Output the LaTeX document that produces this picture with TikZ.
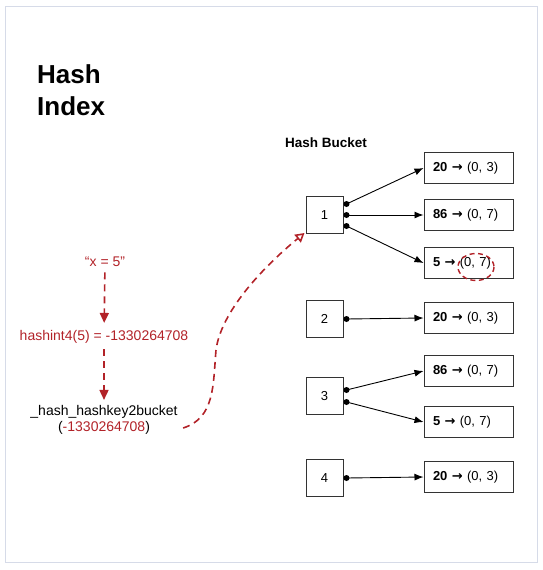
\documentclass[tikz,border=0pt]{standalone}
\usepackage{fontspec}
\setmainfont{Liberation Sans}
\newfontfamily\arrowfont{DejaVu Sans}
\usetikzlibrary{arrows.meta}
\definecolor{hashred}{RGB}{178,34,40}
\definecolor{framegray}{RGB}{214,219,232}
\begin{document}
\begin{tikzpicture}[
		x={(1pt,0pt)},
		y={(0pt,-1pt)},
		bucket/.style={draw=black!80,line width=1pt,minimum width=37pt,minimum height=37pt,inner sep=0pt,font=\fontsize{13}{15}\selectfont},
		entry/.style={draw=black!80,line width=1pt,text width=71pt,inner xsep=9pt,minimum height=31pt,align=left,font=\fontsize{13}{15}\selectfont},
		link/.style={line width=0.9pt,-{Latex[length=9pt,width=7pt]}},
		flow/.style={hashred,line width=1.6pt,dash pattern=on 7pt off 5pt,-{Triangle[length=10pt,width=9pt]}},
		lookup/.style={hashred,line width=1.6pt,dash pattern=on 7pt off 5pt,-{Triangle[open,length=9pt,width=10pt]}},
	]
		\useasboundingbox (0,0) rectangle (543,570);
		\draw[framegray,line width=0.8pt] (5,6) rectangle (537,562);
		
		\node[anchor=base west,inner sep=0pt,font=\fontsize{26}{30}\selectfont\bfseries] (title) at (37,83) {Hash};
		\node[anchor=base west,inner sep=0pt,font=\fontsize{26}{30}\selectfont\bfseries] (title2) at (37,115) {Index};
		\node[anchor=base west,inner sep=0pt,font=\fontsize{13.5}{16}\selectfont\bfseries] (bucketlabel) at (285,147) {Hash Bucket};
		
		% buckets
		\foreach \name/\y/\t in {b1/215/1,b2/319/2,b3/396/3,b4/478/4}{
			\node[bucket] (\name) at (324.5,\y) {\t};
		}
		
		% entries
		\foreach \name/\y/\k/\v in {e11/168/20/3,e12/215/86/7,e13/263/5/7,e2/318/20/3,e31/371/86/7,e32/422/5/7,e4/477/20/3}{
			\node[entry] (\name) at (468.5,\y) {\textbf{\k\ {\arrowfont →}} (0, \v)};
		}
		
		\foreach \b/\dy/\e in {b1/-11/e11,b1/0/e12,b1/11/e13,b2/0/e2,b3/-6/e31,b3/6/e32,b4/0/e4}{
			\coordinate (dot) at ([shift={(3,\dy)}]\b.east);
			\fill (dot) circle (3pt);
			\draw[link] (dot) -- (\e.west);
		}
		
		\draw[hashred,line width=1.4pt,dash pattern=on 5pt off 3.5pt] (476,267) ellipse [x radius=18,y radius=13.5];
		
		% hashing steps
		\node[text=hashred,font=\fontsize{14}{16}\selectfont] (key) at (105,262) {“x = 5”};
		\node[text=hashred,font=\fontsize{14}{16}\selectfont] (hashval) at (104,337) {hashint4(5) = -1330264708};
		\node[align=center,font=\fontsize{14}{16}\selectfont] (bucketfn) at (104,420) {\_hash\_hashkey2bucket\\(\textcolor{hashred}{-1330264708})};
		
		\draw[flow,shorten <=2pt,shorten >=4pt] (key) -- (hashval);
		\draw[flow,shorten <=2pt,shorten >=2pt] (hashval) -- (bucketfn);
		
		\coordinate (curvestart) at ([shift={(2,8)}]bucketfn.east);
		\draw[lookup] (curvestart) .. controls (215,418) and (213,385) .. (216,350) .. controls (221,312) and (262,268) .. ([shift={(-1,-1)}]b1.south west);
	\end{tikzpicture}
\end{document}
